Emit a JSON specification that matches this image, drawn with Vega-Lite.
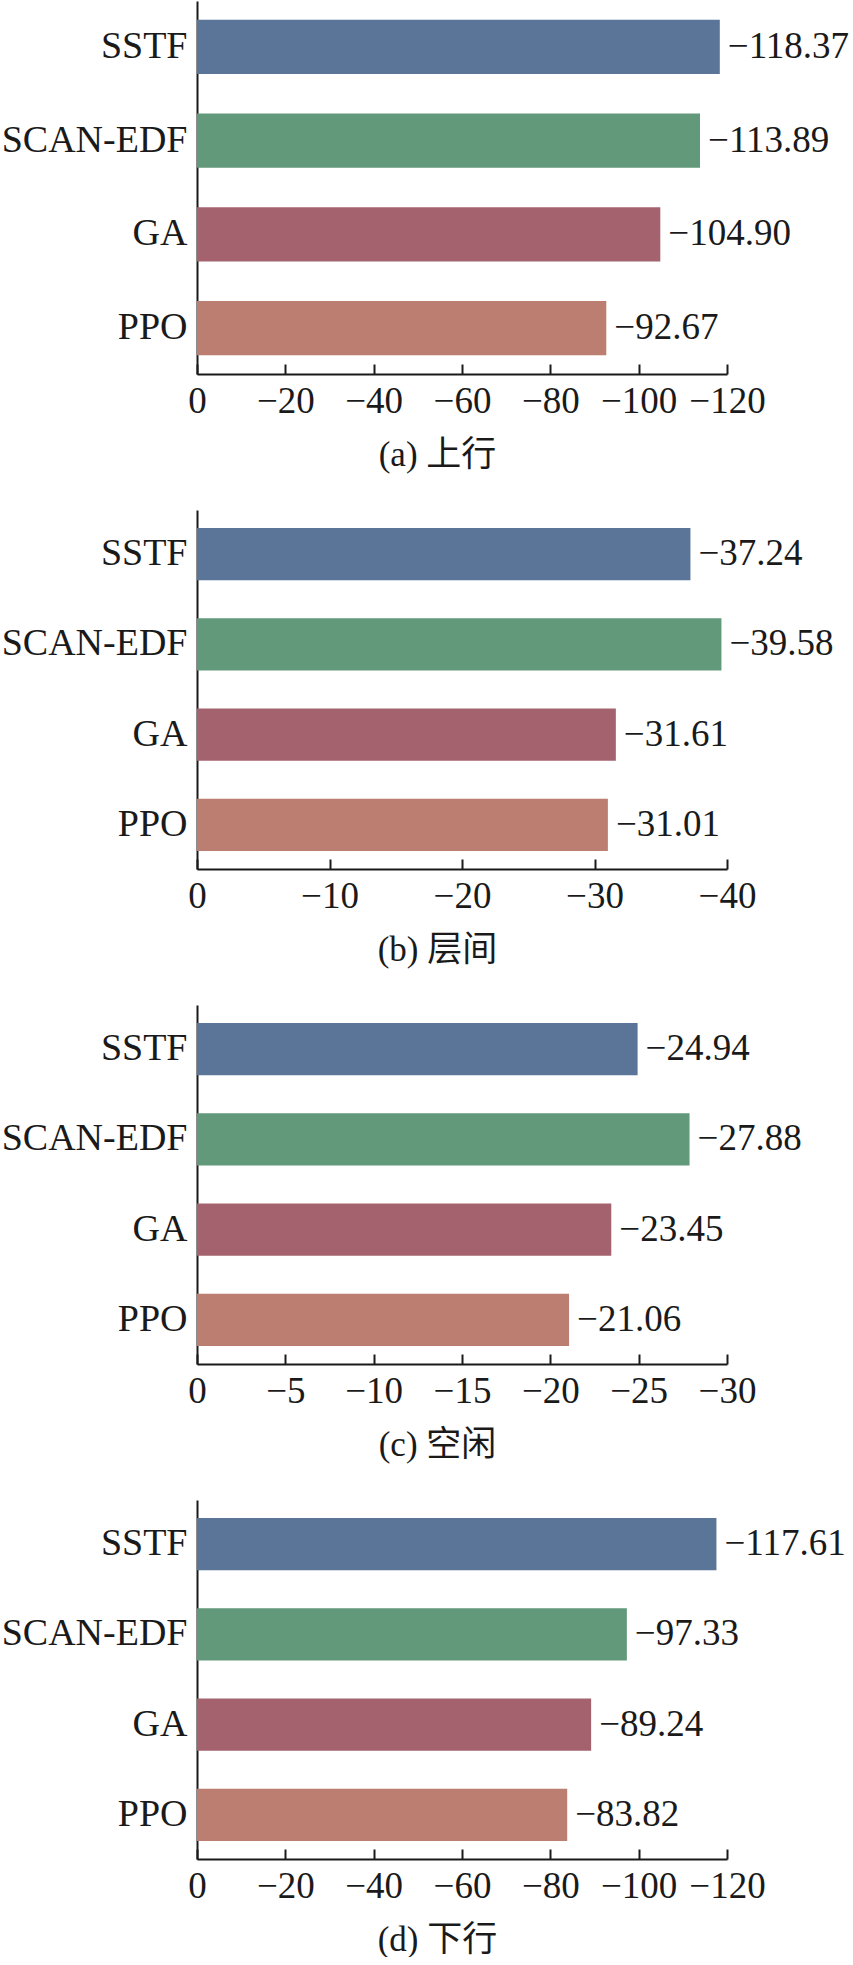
{
  "$schema": "https://vega.github.io/schema/vega-lite/v6.json",
  "background": "white",
  "padding": {"top": 1, "left": 1, "right": 0, "bottom": 0},
  "spacing": 38,
  "data": {
    "values": [
      {"panel": "a", "algo": "SSTF", "value": -118.37},
      {"panel": "a", "algo": "SCAN-EDF", "value": -113.89},
      {"panel": "a", "algo": "GA", "value": -104.90},
      {"panel": "a", "algo": "PPO", "value": -92.67},
      {"panel": "b", "algo": "SSTF", "value": -37.24},
      {"panel": "b", "algo": "SCAN-EDF", "value": -39.58},
      {"panel": "b", "algo": "GA", "value": -31.61},
      {"panel": "b", "algo": "PPO", "value": -31.01},
      {"panel": "c", "algo": "SSTF", "value": -24.94},
      {"panel": "c", "algo": "SCAN-EDF", "value": -27.88},
      {"panel": "c", "algo": "GA", "value": -23.45},
      {"panel": "c", "algo": "PPO", "value": -21.06},
      {"panel": "d", "algo": "SSTF", "value": -117.61},
      {"panel": "d", "algo": "SCAN-EDF", "value": -97.33},
      {"panel": "d", "algo": "GA", "value": -89.24},
      {"panel": "d", "algo": "PPO", "value": -83.82}
    ]
  },
  "config": {
    "view": {"stroke": null},
    "font": "Liberation Serif",
    "axis": {
      "domainColor": "#1a1a1a",
      "domainWidth": 2,
      "tickColor": "#1a1a1a",
      "tickWidth": 2,
      "labelColor": "#1a1a1a",
      "titleColor": "#1a1a1a",
      "labelFont": "Liberation Serif",
      "titleFont": "Liberation Serif, Noto Sans CJK SC",
      "labelLimit": 0,
      "grid": false
    }
  },
  "vconcat": [
    {
      "width": 530,
      "height": 373,
      "transform": [{"filter": "datum.panel == 'a'"}],
      "encoding": {
        "y": {"field": "algo", "type": "nominal", "sort": ["SSTF", "SCAN-EDF", "GA", "PPO"], "scale": {"paddingInner": 0.42, "paddingOuter": 0.2}, "axis": {"title": null, "labelFontSize": 38, "labelLimit": 0, "ticks": false, "labelPadding": 10}},
        "x": {"field": "value", "type": "quantitative", "scale": {"domain": [0, -120], "nice": false}, "axis": {"values": [0, -20, -40, -60, -80, -100, -120], "format": "d", "tickSize": -10, "labelPadding": 19, "labelFontSize": 37, "labelFlush": false, "labelOverlap": false, "title": "(a) 上行", "titleFontSize": 35, "titleFontWeight": "normal", "titleX": 240, "titleY": 91, "titleBaseline": "alphabetic", "titleAlign": "center"}}
      },
      "layer": [
        {"mark": {"type": "bar"}, "encoding": {"color": {"field": "algo", "type": "nominal", "scale": {"domain": ["SSTF", "SCAN-EDF", "GA", "PPO"], "range": ["#5b7598", "#62997b", "#a3626e", "#bb7e70"]}, "legend": null}}},
        {"mark": {"type": "text", "align": "left", "baseline": "middle", "dx": 8, "fontSize": 37, "font": "Liberation Serif", "color": "#1a1a1a"}, "encoding": {"text": {"field": "value", "type": "quantitative", "format": ".2f"}}}
      ]
    },
    {
      "width": 530,
      "height": 359,
      "transform": [{"filter": "datum.panel == 'b'"}],
      "encoding": {
        "y": {"field": "algo", "type": "nominal", "sort": ["SSTF", "SCAN-EDF", "GA", "PPO"], "scale": {"paddingInner": 0.42, "paddingOuter": 0.2}, "axis": {"title": null, "labelFontSize": 38, "labelLimit": 0, "ticks": false, "labelPadding": 10}},
        "x": {"field": "value", "type": "quantitative", "scale": {"domain": [0, -40], "nice": false}, "axis": {"values": [0, -10, -20, -30, -40], "format": "d", "tickSize": -10, "labelPadding": 19, "labelFontSize": 37, "labelFlush": false, "labelOverlap": false, "title": "(b) 层间", "titleFontSize": 35, "titleFontWeight": "normal", "titleX": 240, "titleY": 91, "titleBaseline": "alphabetic", "titleAlign": "center"}}
      },
      "layer": [
        {"mark": {"type": "bar"}, "encoding": {"color": {"field": "algo", "type": "nominal", "scale": {"domain": ["SSTF", "SCAN-EDF", "GA", "PPO"], "range": ["#5b7598", "#62997b", "#a3626e", "#bb7e70"]}, "legend": null}}},
        {"mark": {"type": "text", "align": "left", "baseline": "middle", "dx": 8, "fontSize": 37, "font": "Liberation Serif", "color": "#1a1a1a"}, "encoding": {"text": {"field": "value", "type": "quantitative", "format": ".2f"}}}
      ]
    },
    {
      "width": 530,
      "height": 359,
      "transform": [{"filter": "datum.panel == 'c'"}],
      "encoding": {
        "y": {"field": "algo", "type": "nominal", "sort": ["SSTF", "SCAN-EDF", "GA", "PPO"], "scale": {"paddingInner": 0.42, "paddingOuter": 0.2}, "axis": {"title": null, "labelFontSize": 38, "labelLimit": 0, "ticks": false, "labelPadding": 10}},
        "x": {"field": "value", "type": "quantitative", "scale": {"domain": [0, -30], "nice": false}, "axis": {"values": [0, -5, -10, -15, -20, -25, -30], "format": "d", "tickSize": -10, "labelPadding": 19, "labelFontSize": 37, "labelFlush": false, "labelOverlap": false, "title": "(c) 空闲", "titleFontSize": 35, "titleFontWeight": "normal", "titleX": 240, "titleY": 91, "titleBaseline": "alphabetic", "titleAlign": "center"}}
      },
      "layer": [
        {"mark": {"type": "bar"}, "encoding": {"color": {"field": "algo", "type": "nominal", "scale": {"domain": ["SSTF", "SCAN-EDF", "GA", "PPO"], "range": ["#5b7598", "#62997b", "#a3626e", "#bb7e70"]}, "legend": null}}},
        {"mark": {"type": "text", "align": "left", "baseline": "middle", "dx": 8, "fontSize": 37, "font": "Liberation Serif", "color": "#1a1a1a"}, "encoding": {"text": {"field": "value", "type": "quantitative", "format": ".2f"}}}
      ]
    },
    {
      "width": 530,
      "height": 359,
      "transform": [{"filter": "datum.panel == 'd'"}],
      "encoding": {
        "y": {"field": "algo", "type": "nominal", "sort": ["SSTF", "SCAN-EDF", "GA", "PPO"], "scale": {"paddingInner": 0.42, "paddingOuter": 0.2}, "axis": {"title": null, "labelFontSize": 38, "labelLimit": 0, "ticks": false, "labelPadding": 10}},
        "x": {"field": "value", "type": "quantitative", "scale": {"domain": [0, -120], "nice": false}, "axis": {"values": [0, -20, -40, -60, -80, -100, -120], "format": "d", "tickSize": -10, "labelPadding": 19, "labelFontSize": 37, "labelFlush": false, "labelOverlap": false, "title": "(d) 下行", "titleFontSize": 35, "titleFontWeight": "normal", "titleX": 240, "titleY": 91, "titleBaseline": "alphabetic", "titleAlign": "center"}}
      },
      "layer": [
        {"mark": {"type": "bar"}, "encoding": {"color": {"field": "algo", "type": "nominal", "scale": {"domain": ["SSTF", "SCAN-EDF", "GA", "PPO"], "range": ["#5b7598", "#62997b", "#a3626e", "#bb7e70"]}, "legend": null}}},
        {"mark": {"type": "text", "align": "left", "baseline": "middle", "dx": 8, "fontSize": 37, "font": "Liberation Serif", "color": "#1a1a1a"}, "encoding": {"text": {"field": "value", "type": "quantitative", "format": ".2f"}}}
      ]
    }
  ]
}
